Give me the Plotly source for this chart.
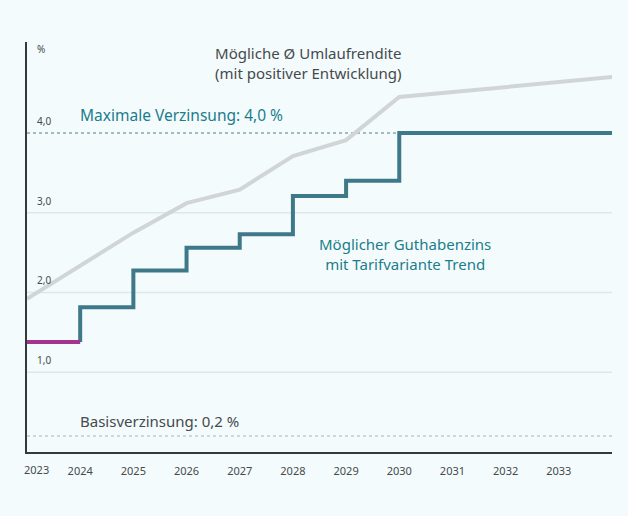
import plotly.graph_objects as go

# ---- data ----
years_grey = [2023, 2025, 2026, 2027, 2028, 2029, 2030, 2034]
umlaufrendite = [1.92, 2.75, 3.12, 3.29, 3.71, 3.91, 4.45, 4.70]

years_base = [2023, 2024]
guthaben_base = [1.38, 1.38]

step_x = [2024, 2024, 2025, 2026, 2027, 2028, 2029, 2030, 2034]
step_y = [1.38, 1.815, 2.275, 2.56, 2.73, 3.21, 3.40, 4.0, 4.0]

max_rate = 4.0
base_rate = 0.2
grid_vals = [1.0, 2.0, 3.0]
ytick_vals = [1.0, 2.0, 3.0, 4.0]
ytick_labels = ["1,0", "2,0", "3,0", "4,0"]
xtick_vals = [2024, 2025, 2026, 2027, 2028, 2029, 2030, 2031, 2032, 2033]
xtick_labels = [str(v) for v in xtick_vals]

BG = "#f4fbfc"
TEAL_TXT = "#1b7d8c"
TEAL_LINE = "#3e798a"
MAGENTA = "#a3358f"
GREY_LINE = "#d2d5d5"
TXT = "#444a4d"
FONT = "Noto Sans"

fig = go.Figure()

for g in grid_vals:
    fig.add_shape(type="line", xref="x", yref="y", x0=2023, x1=2034, y0=g, y1=g,
                  line=dict(color="#dbe9ec", width=1.5), layer="below")
fig.add_shape(type="line", xref="x", yref="y", x0=2023, x1=2030, y0=max_rate, y1=max_rate,
              line=dict(color="#84a6b0", width=1.5, dash="3px,3px"), layer="below")
fig.add_shape(type="line", xref="x", yref="y", x0=2023, x1=2034, y0=base_rate, y1=base_rate,
              line=dict(color="#c3cccf", width=1.5, dash="3px,3px"), layer="below")

fig.add_trace(go.Scatter(x=years_grey, y=umlaufrendite, mode="lines",
                         line=dict(color=GREY_LINE, width=4), hoverinfo="skip"))
fig.add_trace(go.Scatter(x=step_x, y=step_y, mode="lines", line_shape="hv",
                         line=dict(color=TEAL_LINE, width=4), hoverinfo="skip"))
fig.add_trace(go.Scatter(x=years_base, y=guthaben_base, mode="lines",
                         line=dict(color=MAGENTA, width=4), hoverinfo="skip"))

ann = []
for v, t in zip(ytick_vals, ytick_labels):
    ann.append(dict(x=0, xref="paper", y=v, yref="y", text=t, showarrow=False,
                    xanchor="left", yanchor="bottom", xshift=8, yshift=3,
                    font=dict(size=10, color=TXT, family=FONT)))
ann.append(dict(x=0, xref="paper", y=1, yref="paper", text="%", showarrow=False,
                xanchor="left", yanchor="top", xshift=8, yshift=2,
                font=dict(size=10, color=TXT, family=FONT)))
ann.append(dict(x=2023, xref="x", y=0, yref="paper", text="2023", showarrow=False,
                xanchor="center", yanchor="top", xshift=9, yshift=-8,
                font=dict(size=11, color=TXT, family=FONT)))
ann.append(dict(x=2028.3, xref="x", y=4.88, yref="y", text="Mögliche Ø Umlaufrendite<br>(mit positiver Entwicklung)",
                showarrow=False, xanchor="center", yanchor="middle",
                font=dict(size=15, color=TXT, family=FONT)))
ann.append(dict(x=2024, xref="x", y=4.17, yref="y", text="Maximale Verzinsung: 4,0 %",
                showarrow=False, xanchor="left", yanchor="bottom", yshift=-9, xshift=-2,
                font=dict(size=15.5, color=TEAL_TXT, family=FONT)))
ann.append(dict(x=2030.1, xref="x", y=2.48, yref="y", text="Möglicher Guthabenzins<br>mit Tarifvariante Trend",
                showarrow=False, xanchor="center", yanchor="middle",
                font=dict(size=15, color=TEAL_TXT, family=FONT)))
ann.append(dict(x=2024, xref="x", y=0.39, yref="y", text="Basisverzinsung: 0,2 %",
                showarrow=False, xanchor="left", yanchor="middle", xshift=-2,
                font=dict(size=15, color=TXT, family=FONT)))

fig.update_layout(
    width=628, height=516,
    margin=dict(l=27, r=16, t=42, b=64),
    paper_bgcolor=BG, plot_bgcolor=BG,
    showlegend=False,
    annotations=ann,
    font=dict(family=FONT, color=TXT),
    xaxis=dict(range=[2023, 2034], tickvals=xtick_vals, ticktext=xtick_labels,
               showgrid=False, zeroline=False, showline=True, linecolor="#333a3d",
               linewidth=1.5, ticks="", tickfont=dict(size=11, color=TXT, family=FONT),
               ticklabelstandoff=8, fixedrange=True),
    yaxis=dict(range=[0, 5.14], showgrid=False, zeroline=False, showline=True,
               linecolor="#333a3d", linewidth=1.5, showticklabels=False, ticks="",
               fixedrange=True),
)

fig.write_html(
    "out.html",
    config={"displayModeBar": False},
    post_script="document.body.style.margin='0';document.body.style.background='" + BG + "';document.body.style.overflow='hidden';",
)
